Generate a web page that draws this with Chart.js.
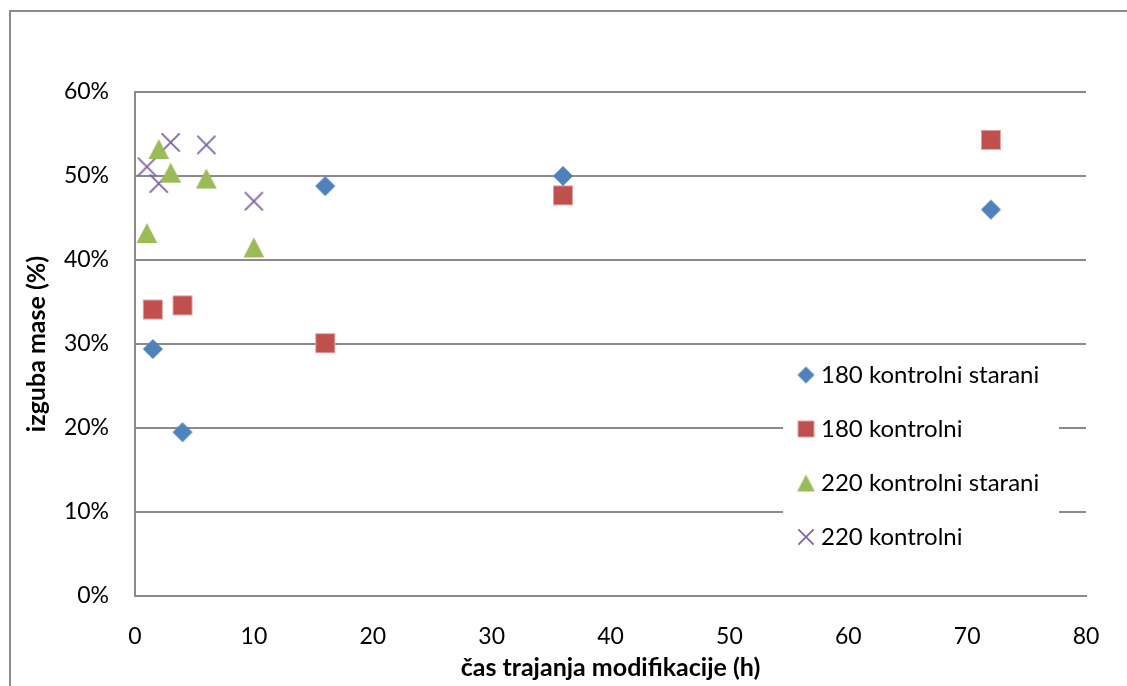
<!DOCTYPE html>
<html>
<head>
<meta charset="utf-8">
<script src="https://cdn.jsdelivr.net/npm/chart.js@4.4.1/dist/chart.umd.min.js"></script>
<style>
  html, body { margin: 0; padding: 0; background: #fff; }
  #wrap { position: relative; width: 1127px; height: 686px; overflow: hidden; }
  #frame { position: absolute; left: 9px; top: 10px; width: 1140px; height: 700px; border: 2px solid #8a8a8a; box-sizing: border-box; }
  canvas { position: absolute; left: 0; top: 0; }
</style>
</head>
<body>
<div id="wrap">
  <div id="frame"></div>
  <canvas id="c" width="1127" height="686"></canvas>
</div>
<script>
// Mass loss (%) versus modification time (h)
const seriesNames = ['180 kontrolni starani', '180 kontrolni', '220 kontrolni starani', '220 kontrolni'];

const hours180Aged = [1.5, 4, 16, 36, 72];
const loss180Aged  = [29.4, 19.5, 48.8, 50.0, 46.0];

const hours180 = [1.5, 4, 16, 36, 72];
const loss180  = [34.1, 34.6, 30.1, 47.7, 54.3];

const hours220Aged = [1, 2, 3, 6, 10];
const loss220Aged  = [43.2, 53.2, 50.4, 49.7, 41.5];

const hours220 = [1, 2, 3, 6, 10];
const loss220  = [51.1, 49.1, 54.0, 53.7, 47.0];

const xTicks = [0, 10, 20, 30, 40, 50, 60, 70, 80];
const yTicks = [0, 10, 20, 30, 40, 50, 60];

const colors = ['#4F81BD', '#C0504D', '#9BBB59', '#8064A2'];
const FONT = 'Lato, "Open Sans", sans-serif';

// Marker sprites, drawn centred in their own canvas
function sprite(kind, size, color) {
  const pad = 2;
  const c = document.createElement('canvas');
  c.width = c.height = Math.ceil(size + pad * 2);
  const g = c.getContext('2d');
  const m = c.width / 2, h = size / 2;
  g.fillStyle = color;
  g.strokeStyle = color;
  if (kind === 'diamond') {
    g.beginPath();
    g.moveTo(m, m - h); g.lineTo(m + h, m); g.lineTo(m, m + h); g.lineTo(m - h, m);
    g.closePath(); g.fill();
  } else if (kind === 'square') {
    g.fillRect(m - h, m - h, size, size);
    g.strokeStyle = 'rgba(230,170,168,0.9)';
    g.lineWidth = 1;
    g.strokeRect(m - h + 0.5, m - h + 0.5, size - 1, size - 1);
  } else if (kind === 'triangle') {
    g.beginPath();
    g.moveTo(m, m - h); g.lineTo(m + h * 1.04, m + h); g.lineTo(m - h * 1.04, m + h);
    g.closePath(); g.fill();
  } else if (kind === 'cross') {
    const r = h * 0.95;
    g.lineWidth = 1.8;
    g.beginPath();
    g.moveTo(m - r, m - r); g.lineTo(m + r, m + r);
    g.moveTo(m + r, m - r); g.lineTo(m - r, m + r);
    g.stroke();
  }
  return c;
}

const kinds = ['diamond', 'square', 'triangle', 'cross'];
const plotSizes = [20, 20, 20, 19];
const legendSizes = [17, 17, 17, 16];
const plotMarks = kinds.map((k, i) => sprite(k, plotSizes[i], colors[i]));
const legendMarks = kinds.map((k, i) => sprite(k, legendSizes[i], colors[i]));

function points(xs, ys) { return xs.map((x, i) => ({ x: x, y: ys[i] })); }

const dataSets = [
  points(hours180Aged, loss180Aged),
  points(hours180, loss180),
  points(hours220Aged, loss220Aged),
  points(hours220, loss220)
];

// Legend box placed inside the plot area, on a white ground
const LEGEND_BOX = { x: 783, y: 350, w: 276, h: 212 };
const LEGEND_FONT = 24;
const LEGEND_GAP = 30;

const legendInside = {
  id: 'legendInside',
  afterLayout(chart) {
    const lg = chart.legend;
    lg.left = 806 - LEGEND_GAP - 3;
    lg.top = 375 - LEGEND_GAP - LEGEND_FONT / 2;
    lg.right = LEGEND_BOX.x + LEGEND_BOX.w;
    lg.bottom = 600;
    lg.width = lg.right - lg.left;
    lg.height = lg.bottom - lg.top;
  },
  beforeDatasetsDraw(chart) {
    const ctx = chart.ctx;
    ctx.save();
    ctx.fillStyle = '#ffffff';
    ctx.fillRect(LEGEND_BOX.x, LEGEND_BOX.y, LEGEND_BOX.w, LEGEND_BOX.h);
    ctx.restore();
    chart.legend.draw(chart.chartArea);
  }
};

new Chart(document.getElementById('c'), {
  type: 'scatter',
  data: {
    datasets: dataSets.map((d, i) => ({
      label: seriesNames[i],
      data: d,
      pointStyle: plotMarks[i],
      backgroundColor: colors[i],
      borderColor: colors[i],
      showLine: false
    }))
  },
  options: {
    responsive: false,
    animation: false,
    events: [],
    layout: { padding: { left: 0, top: 92, right: 41, bottom: 0 } },
    plugins: {
      tooltip: { enabled: false },
      legend: {
        position: 'chartArea',
        align: 'start',
        labels: {
          usePointStyle: true,
          boxWidth: 6,
          padding: LEGEND_GAP,
          color: '#000',
          font: { family: FONT, size: LEGEND_FONT },
          generateLabels(chart) {
            return chart.data.datasets.map((ds, i) => ({
              text: ds.label,
              pointStyle: legendMarks[i],
              fillStyle: colors[i],
              strokeStyle: colors[i],
              lineWidth: 0,
              hidden: false,
              datasetIndex: i,
              fontColor: '#000'
            }));
          }
        }
      }
    },
    scales: {
      x: {
        type: 'linear',
        min: 0,
        max: 80,
        afterFit(s) { s.height = 90; },
        afterBuildTicks(s) { s.ticks = xTicks.map(v => ({ value: v })); },
        grid: { display: false, drawTicks: false },
        border: { display: true, color: '#8a8a8a', width: 2 },
        ticks: { color: '#000', padding: 27, font: { family: FONT, size: 23 } },
        title: {
          display: true,
          text: 'čas trajanja modifikacije (h)',
          color: '#000',
          font: { family: FONT, size: 25, weight: 'bold' },
          padding: { top: 0, bottom: 3 }
        }
      },
      y: {
        type: 'linear',
        min: 0,
        max: 60,
        afterFit(s) { s.width = 135; },
        afterBuildTicks(s) { s.ticks = yTicks.map(v => ({ value: v })); },
        grid: { display: true, color: '#8a8a8a', lineWidth: 2, drawTicks: false },
        border: { display: true, color: '#8a8a8a', width: 2 },
        ticks: {
          color: '#000',
          padding: 26,
          font: { family: FONT, size: 23 },
          callback: v => v + '%'
        },
        title: {
          display: true,
          text: 'izguba mase (%)',
          color: '#000',
          font: { family: FONT, size: 25, weight: 'bold' },
          padding: { top: 22, bottom: 0 }
        }
      }
    }
  },
  plugins: [legendInside]
});
</script>
</body>
</html>
